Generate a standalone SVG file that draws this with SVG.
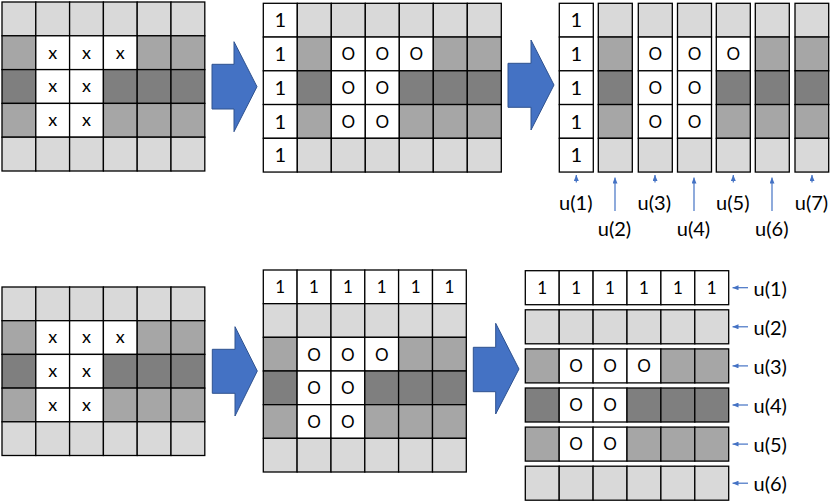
<svg xmlns="http://www.w3.org/2000/svg" width="830" height="503" viewBox="0 0 830 503">
<defs>
<style>
.g rect{stroke:#000;stroke-width:1.3}
.l{fill:#d9d9d9}.m{fill:#a6a6a6}.d{fill:#7f7f7f}.w{fill:#fff}
text{font-family:Lato,"Open Sans","Liberation Sans",sans-serif;fill:#000;text-anchor:middle}
.one{font-size:20px}.one2{font-size:17px}.o{font-size:17px}.x{font-size:18px}
.lab{font-size:20px}.labr{font-size:20px;text-anchor:start}
.big{fill:#4472c4;stroke:#2f528f;stroke-width:1}
.sa{stroke:#4472c4;stroke-width:1.2;fill:none;marker-end:url(#ah)}
</style>
<marker id="ah" markerUnits="userSpaceOnUse" markerWidth="6" markerHeight="5" refX="6" refY="2.5" orient="auto">
<path d="M0,0 L6,2.5 L0,5 z" fill="#4472c4"/>
</marker>
</defs>

<g id="grid-top-left" class="g">
<rect class="l" x="2" y="2" width="33.8" height="33.8"/><rect class="l" x="35.8" y="2" width="33.8" height="33.8"/><rect class="l" x="69.6" y="2" width="33.8" height="33.8"/><rect class="l" x="103.4" y="2" width="33.8" height="33.8"/><rect class="l" x="137.2" y="2" width="33.8" height="33.8"/><rect class="l" x="171" y="2" width="33.8" height="33.8"/>
<rect class="m" x="2" y="35.8" width="33.8" height="33.8"/><rect class="w" x="35.8" y="35.8" width="33.8" height="33.8"/><rect class="w" x="69.6" y="35.8" width="33.8" height="33.8"/><rect class="w" x="103.4" y="35.8" width="33.8" height="33.8"/><rect class="m" x="137.2" y="35.8" width="33.8" height="33.8"/><rect class="m" x="171" y="35.8" width="33.8" height="33.8"/>
<rect class="d" x="2" y="69.6" width="33.8" height="33.8"/><rect class="w" x="35.8" y="69.6" width="33.8" height="33.8"/><rect class="w" x="69.6" y="69.6" width="33.8" height="33.8"/><rect class="d" x="103.4" y="69.6" width="33.8" height="33.8"/><rect class="d" x="137.2" y="69.6" width="33.8" height="33.8"/><rect class="d" x="171" y="69.6" width="33.8" height="33.8"/>
<rect class="m" x="2" y="103.4" width="33.8" height="33.8"/><rect class="w" x="35.8" y="103.4" width="33.8" height="33.8"/><rect class="w" x="69.6" y="103.4" width="33.8" height="33.8"/><rect class="m" x="103.4" y="103.4" width="33.8" height="33.8"/><rect class="m" x="137.2" y="103.4" width="33.8" height="33.8"/><rect class="m" x="171" y="103.4" width="33.8" height="33.8"/>
<rect class="l" x="2" y="137.2" width="33.8" height="33.8"/><rect class="l" x="35.8" y="137.2" width="33.8" height="33.8"/><rect class="l" x="69.6" y="137.2" width="33.8" height="33.8"/><rect class="l" x="103.4" y="137.2" width="33.8" height="33.8"/><rect class="l" x="137.2" y="137.2" width="33.8" height="33.8"/><rect class="l" x="171" y="137.2" width="33.8" height="33.8"/>
<text class="x" x="52.7" y="58.5">x</text><text class="x" x="86.5" y="58.5">x</text><text class="x" x="120.3" y="58.5">x</text>
<text class="x" x="52.7" y="92.3">x</text><text class="x" x="86.5" y="92.3">x</text>
<text class="x" x="52.7" y="126.1">x</text><text class="x" x="86.5" y="126.1">x</text>
</g>

<g id="grid-top-middle" class="g">
<rect class="w" x="263.3" y="3.3" width="34" height="33.75"/><rect class="l" x="297.3" y="3.3" width="34" height="33.75"/><rect class="l" x="331.3" y="3.3" width="34" height="33.75"/><rect class="l" x="365.3" y="3.3" width="34" height="33.75"/><rect class="l" x="399.3" y="3.3" width="34" height="33.75"/><rect class="l" x="433.3" y="3.3" width="34" height="33.75"/><rect class="l" x="467.3" y="3.3" width="34" height="33.75"/>
<rect class="w" x="263.3" y="37.05" width="34" height="33.75"/><rect class="m" x="297.3" y="37.05" width="34" height="33.75"/><rect class="w" x="331.3" y="37.05" width="34" height="33.75"/><rect class="w" x="365.3" y="37.05" width="34" height="33.75"/><rect class="w" x="399.3" y="37.05" width="34" height="33.75"/><rect class="m" x="433.3" y="37.05" width="34" height="33.75"/><rect class="m" x="467.3" y="37.05" width="34" height="33.75"/>
<rect class="w" x="263.3" y="70.8" width="34" height="33.75"/><rect class="d" x="297.3" y="70.8" width="34" height="33.75"/><rect class="w" x="331.3" y="70.8" width="34" height="33.75"/><rect class="w" x="365.3" y="70.8" width="34" height="33.75"/><rect class="d" x="399.3" y="70.8" width="34" height="33.75"/><rect class="d" x="433.3" y="70.8" width="34" height="33.75"/><rect class="d" x="467.3" y="70.8" width="34" height="33.75"/>
<rect class="w" x="263.3" y="104.55" width="34" height="33.75"/><rect class="m" x="297.3" y="104.55" width="34" height="33.75"/><rect class="w" x="331.3" y="104.55" width="34" height="33.75"/><rect class="w" x="365.3" y="104.55" width="34" height="33.75"/><rect class="m" x="399.3" y="104.55" width="34" height="33.75"/><rect class="m" x="433.3" y="104.55" width="34" height="33.75"/><rect class="m" x="467.3" y="104.55" width="34" height="33.75"/>
<rect class="w" x="263.3" y="138.3" width="34" height="33.75"/><rect class="l" x="297.3" y="138.3" width="34" height="33.75"/><rect class="l" x="331.3" y="138.3" width="34" height="33.75"/><rect class="l" x="365.3" y="138.3" width="34" height="33.75"/><rect class="l" x="399.3" y="138.3" width="34" height="33.75"/><rect class="l" x="433.3" y="138.3" width="34" height="33.75"/><rect class="l" x="467.3" y="138.3" width="34" height="33.75"/>
<text class="one" x="280.3" y="27.4">1</text><text class="one" x="280.3" y="61.1">1</text><text class="one" x="280.3" y="94.9">1</text><text class="one" x="280.3" y="128.6">1</text><text class="one" x="280.3" y="162.4">1</text>
<text class="o" x="348.3" y="60.2">O</text><text class="o" x="382.3" y="60.2">O</text><text class="o" x="416.3" y="60.2">O</text>
<text class="o" x="348.3" y="94">O</text><text class="o" x="382.3" y="94">O</text>
<text class="o" x="348.3" y="127.7">O</text><text class="o" x="382.3" y="127.7">O</text>
</g>

<g id="columns-top-right">
<g id="col-u1" class="g">
<rect class="w" x="559.3" y="3.3" width="34" height="33.75"/><rect class="w" x="559.3" y="37.05" width="34" height="33.75"/><rect class="w" x="559.3" y="70.8" width="34" height="33.75"/><rect class="w" x="559.3" y="104.55" width="34" height="33.75"/><rect class="w" x="559.3" y="138.3" width="34" height="33.75"/>
<text class="one" x="576.3" y="27.4">1</text><text class="one" x="576.3" y="61.1">1</text><text class="one" x="576.3" y="94.9">1</text><text class="one" x="576.3" y="128.6">1</text><text class="one" x="576.3" y="162.4">1</text>
</g>
<g id="col-u2" class="g">
<rect class="l" x="598.3" y="3.3" width="34" height="33.75"/><rect class="m" x="598.3" y="37.05" width="34" height="33.75"/><rect class="d" x="598.3" y="70.8" width="34" height="33.75"/><rect class="m" x="598.3" y="104.55" width="34" height="33.75"/><rect class="l" x="598.3" y="138.3" width="34" height="33.75"/>
</g>
<g id="col-u3" class="g">
<rect class="l" x="638.3" y="3.3" width="34" height="33.75"/><rect class="w" x="638.3" y="37.05" width="34" height="33.75"/><rect class="w" x="638.3" y="70.8" width="34" height="33.75"/><rect class="w" x="638.3" y="104.55" width="34" height="33.75"/><rect class="l" x="638.3" y="138.3" width="34" height="33.75"/>
<text class="o" x="655.3" y="60.2">O</text><text class="o" x="655.3" y="94">O</text><text class="o" x="655.3" y="127.7">O</text>
</g>
<g id="col-u4" class="g">
<rect class="l" x="677.5" y="3.3" width="34" height="33.75"/><rect class="w" x="677.5" y="37.05" width="34" height="33.75"/><rect class="w" x="677.5" y="70.8" width="34" height="33.75"/><rect class="w" x="677.5" y="104.55" width="34" height="33.75"/><rect class="l" x="677.5" y="138.3" width="34" height="33.75"/>
<text class="o" x="694.5" y="60.2">O</text><text class="o" x="694.5" y="94">O</text><text class="o" x="694.5" y="127.7">O</text>
</g>
<g id="col-u5" class="g">
<rect class="l" x="716.3" y="3.3" width="34" height="33.75"/><rect class="w" x="716.3" y="37.05" width="34" height="33.75"/><rect class="d" x="716.3" y="70.8" width="34" height="33.75"/><rect class="m" x="716.3" y="104.55" width="34" height="33.75"/><rect class="l" x="716.3" y="138.3" width="34" height="33.75"/>
<text class="o" x="733.3" y="60.2">O</text>
</g>
<g id="col-u6" class="g">
<rect class="l" x="755.3" y="3.3" width="34" height="33.75"/><rect class="m" x="755.3" y="37.05" width="34" height="33.75"/><rect class="d" x="755.3" y="70.8" width="34" height="33.75"/><rect class="m" x="755.3" y="104.55" width="34" height="33.75"/><rect class="l" x="755.3" y="138.3" width="34" height="33.75"/>
</g>
<g id="col-u7" class="g">
<rect class="l" x="795" y="3.3" width="33.7" height="33.75"/><rect class="m" x="795" y="37.05" width="33.7" height="33.75"/><rect class="d" x="795" y="70.8" width="33.7" height="33.75"/><rect class="m" x="795" y="104.55" width="33.7" height="33.75"/><rect class="l" x="795" y="138.3" width="33.7" height="33.75"/>
</g>
<g id="labels-top">
<text class="lab" x="575.8" y="210">u(1)</text><text class="lab" x="614.5" y="236">u(2)</text><text class="lab" x="654.3" y="210">u(3)</text><text class="lab" x="693.5" y="236">u(4)</text><text class="lab" x="732.8" y="210">u(5)</text><text class="lab" x="771.8" y="236">u(6)</text><text class="lab" x="811.5" y="210">u(7)</text>
</g>
</g>

<g id="grid-bottom-left" class="g">
<rect class="l" x="2" y="287" width="33.8" height="33.7"/><rect class="l" x="35.8" y="287" width="33.8" height="33.7"/><rect class="l" x="69.6" y="287" width="33.8" height="33.7"/><rect class="l" x="103.4" y="287" width="33.8" height="33.7"/><rect class="l" x="137.2" y="287" width="33.8" height="33.7"/><rect class="l" x="171" y="287" width="33.8" height="33.7"/>
<rect class="m" x="2" y="320.7" width="33.8" height="33.7"/><rect class="w" x="35.8" y="320.7" width="33.8" height="33.7"/><rect class="w" x="69.6" y="320.7" width="33.8" height="33.7"/><rect class="w" x="103.4" y="320.7" width="33.8" height="33.7"/><rect class="m" x="137.2" y="320.7" width="33.8" height="33.7"/><rect class="m" x="171" y="320.7" width="33.8" height="33.7"/>
<rect class="d" x="2" y="354.4" width="33.8" height="33.7"/><rect class="w" x="35.8" y="354.4" width="33.8" height="33.7"/><rect class="w" x="69.6" y="354.4" width="33.8" height="33.7"/><rect class="d" x="103.4" y="354.4" width="33.8" height="33.7"/><rect class="d" x="137.2" y="354.4" width="33.8" height="33.7"/><rect class="d" x="171" y="354.4" width="33.8" height="33.7"/>
<rect class="m" x="2" y="388.1" width="33.8" height="33.7"/><rect class="w" x="35.8" y="388.1" width="33.8" height="33.7"/><rect class="w" x="69.6" y="388.1" width="33.8" height="33.7"/><rect class="m" x="103.4" y="388.1" width="33.8" height="33.7"/><rect class="m" x="137.2" y="388.1" width="33.8" height="33.7"/><rect class="m" x="171" y="388.1" width="33.8" height="33.7"/>
<rect class="l" x="2" y="421.8" width="33.8" height="33.7"/><rect class="l" x="35.8" y="421.8" width="33.8" height="33.7"/><rect class="l" x="69.6" y="421.8" width="33.8" height="33.7"/><rect class="l" x="103.4" y="421.8" width="33.8" height="33.7"/><rect class="l" x="137.2" y="421.8" width="33.8" height="33.7"/><rect class="l" x="171" y="421.8" width="33.8" height="33.7"/>
<text class="x" x="52.7" y="343.3">x</text><text class="x" x="86.5" y="343.3">x</text><text class="x" x="120.3" y="343.3">x</text>
<text class="x" x="52.7" y="377.1">x</text><text class="x" x="86.5" y="377.1">x</text>
<text class="x" x="52.7" y="410.8">x</text><text class="x" x="86.5" y="410.8">x</text>
</g>

<g id="grid-bottom-middle" class="g">
<rect class="w" x="263.3" y="270" width="33.8" height="33.67"/><rect class="w" x="297.1" y="270" width="33.9" height="33.67"/><rect class="w" x="331" y="270" width="33.8" height="33.67"/><rect class="w" x="364.8" y="270" width="33.8" height="33.67"/><rect class="w" x="398.6" y="270" width="33.9" height="33.67"/><rect class="w" x="432.5" y="270" width="33.8" height="33.67"/>
<rect class="l" x="263.3" y="303.67" width="33.8" height="33.67"/><rect class="l" x="297.1" y="303.67" width="33.9" height="33.67"/><rect class="l" x="331" y="303.67" width="33.8" height="33.67"/><rect class="l" x="364.8" y="303.67" width="33.8" height="33.67"/><rect class="l" x="398.6" y="303.67" width="33.9" height="33.67"/><rect class="l" x="432.5" y="303.67" width="33.8" height="33.67"/>
<rect class="m" x="263.3" y="337.33" width="33.8" height="33.67"/><rect class="w" x="297.1" y="337.33" width="33.9" height="33.67"/><rect class="w" x="331" y="337.33" width="33.8" height="33.67"/><rect class="w" x="364.8" y="337.33" width="33.8" height="33.67"/><rect class="m" x="398.6" y="337.33" width="33.9" height="33.67"/><rect class="m" x="432.5" y="337.33" width="33.8" height="33.67"/>
<rect class="d" x="263.3" y="371" width="33.8" height="33.67"/><rect class="w" x="297.1" y="371" width="33.9" height="33.67"/><rect class="w" x="331" y="371" width="33.8" height="33.67"/><rect class="d" x="364.8" y="371" width="33.8" height="33.67"/><rect class="d" x="398.6" y="371" width="33.9" height="33.67"/><rect class="d" x="432.5" y="371" width="33.8" height="33.67"/>
<rect class="m" x="263.3" y="404.67" width="33.8" height="33.67"/><rect class="w" x="297.1" y="404.67" width="33.9" height="33.67"/><rect class="w" x="331" y="404.67" width="33.8" height="33.67"/><rect class="m" x="364.8" y="404.67" width="33.8" height="33.67"/><rect class="m" x="398.6" y="404.67" width="33.9" height="33.67"/><rect class="m" x="432.5" y="404.67" width="33.8" height="33.67"/>
<rect class="l" x="263.3" y="438.33" width="33.8" height="33.67"/><rect class="l" x="297.1" y="438.33" width="33.9" height="33.67"/><rect class="l" x="331" y="438.33" width="33.8" height="33.67"/><rect class="l" x="364.8" y="438.33" width="33.8" height="33.67"/><rect class="l" x="398.6" y="438.33" width="33.9" height="33.67"/><rect class="l" x="432.5" y="438.33" width="33.8" height="33.67"/>
<text class="one2" x="280.2" y="292.9">1</text><text class="one2" x="314.05" y="292.9">1</text><text class="one2" x="347.9" y="292.9">1</text><text class="one2" x="381.7" y="292.9">1</text><text class="one2" x="415.6" y="292.9">1</text><text class="one2" x="449.4" y="292.9">1</text>
<text class="o" x="314.05" y="360.5">O</text><text class="o" x="347.9" y="360.5">O</text><text class="o" x="381.7" y="360.5">O</text>
<text class="o" x="314.05" y="394.1">O</text><text class="o" x="347.9" y="394.1">O</text>
<text class="o" x="314.05" y="427.8">O</text><text class="o" x="347.9" y="427.8">O</text>
</g>

<g id="rows-bottom-right">
<g id="row-u1" class="g">
<rect class="w" x="525.3" y="270.7" width="33.9" height="34"/><rect class="w" x="559.2" y="270.7" width="33.9" height="34"/><rect class="w" x="593.1" y="270.7" width="33.9" height="34"/><rect class="w" x="627" y="270.7" width="33.9" height="34"/><rect class="w" x="660.9" y="270.7" width="33.9" height="34"/><rect class="w" x="694.8" y="270.7" width="33.9" height="34"/>
<text class="one2" x="542.25" y="293.8">1</text><text class="one2" x="576.15" y="293.8">1</text><text class="one2" x="610.05" y="293.8">1</text><text class="one2" x="643.95" y="293.8">1</text><text class="one2" x="677.85" y="293.8">1</text><text class="one2" x="711.75" y="293.8">1</text>
</g>
<g id="row-u2" class="g">
<rect class="l" x="525.3" y="309.8" width="33.9" height="34"/><rect class="l" x="559.2" y="309.8" width="33.9" height="34"/><rect class="l" x="593.1" y="309.8" width="33.9" height="34"/><rect class="l" x="627" y="309.8" width="33.9" height="34"/><rect class="l" x="660.9" y="309.8" width="33.9" height="34"/><rect class="l" x="694.8" y="309.8" width="33.9" height="34"/>
</g>
<g id="row-u3" class="g">
<rect class="m" x="525.3" y="348.9" width="33.9" height="34"/><rect class="w" x="559.2" y="348.9" width="33.9" height="34"/><rect class="w" x="593.1" y="348.9" width="33.9" height="34"/><rect class="w" x="627" y="348.9" width="33.9" height="34"/><rect class="m" x="660.9" y="348.9" width="33.9" height="34"/><rect class="m" x="694.8" y="348.9" width="33.9" height="34"/>
<text class="o" x="576.15" y="372.2">O</text><text class="o" x="610.05" y="372.2">O</text><text class="o" x="643.95" y="372.2">O</text>
</g>
<g id="row-u4" class="g">
<rect class="d" x="525.3" y="388" width="33.9" height="34"/><rect class="w" x="559.2" y="388" width="33.9" height="34"/><rect class="w" x="593.1" y="388" width="33.9" height="34"/><rect class="d" x="627" y="388" width="33.9" height="34"/><rect class="d" x="660.9" y="388" width="33.9" height="34"/><rect class="d" x="694.8" y="388" width="33.9" height="34"/>
<text class="o" x="576.15" y="411.3">O</text><text class="o" x="610.05" y="411.3">O</text>
</g>
<g id="row-u5" class="g">
<rect class="m" x="525.3" y="427.1" width="33.9" height="34"/><rect class="w" x="559.2" y="427.1" width="33.9" height="34"/><rect class="w" x="593.1" y="427.1" width="33.9" height="34"/><rect class="m" x="627" y="427.1" width="33.9" height="34"/><rect class="m" x="660.9" y="427.1" width="33.9" height="34"/><rect class="m" x="694.8" y="427.1" width="33.9" height="34"/>
<text class="o" x="576.15" y="450.4">O</text><text class="o" x="610.05" y="450.4">O</text>
</g>
<g id="row-u6" class="g">
<rect class="l" x="525.3" y="466.2" width="33.9" height="34"/><rect class="l" x="559.2" y="466.2" width="33.9" height="34"/><rect class="l" x="593.1" y="466.2" width="33.9" height="34"/><rect class="l" x="627" y="466.2" width="33.9" height="34"/><rect class="l" x="660.9" y="466.2" width="33.9" height="34"/><rect class="l" x="694.8" y="466.2" width="33.9" height="34"/>
</g>
<g id="labels-right">
<text class="labr" x="753.5" y="295.5">u(1)</text><text class="labr" x="753.5" y="334.6">u(2)</text><text class="labr" x="753.5" y="373.7">u(3)</text><text class="labr" x="753.5" y="412.8">u(4)</text><text class="labr" x="753.5" y="451.9">u(5)</text><text class="labr" x="753.5" y="491">u(6)</text>
</g>
</g>

<g id="connectors">
<polygon class="big" points="212,64.3 234,64.3 234,41.7 257,86.7 234,131.7 234,109 212,109"/>
<polygon class="big" points="508,63.3 531,63.3 531,40 554,85 531,130 531,107.3 508,107.3"/>
<polygon class="big" points="212.3,349.3 235,349.3 235,326.7 257.3,371 235,416 235,393.3 212.3,393.3"/>
<polygon class="big" points="473.3,347.3 495.7,347.3 495.7,323.3 519,369 495.7,414 495.7,391.7 473.3,391.7"/>
<line class="sa" x1="576.3" y1="182.5" x2="576.3" y2="175"/>
<line class="sa" x1="615" y1="211" x2="615" y2="177.5"/>
<line class="sa" x1="655" y1="182.5" x2="655" y2="175"/>
<line class="sa" x1="694" y1="211" x2="694" y2="177.5"/>
<line class="sa" x1="733.3" y1="182.5" x2="733.3" y2="175"/>
<line class="sa" x1="772" y1="211" x2="772" y2="177.5"/>
<line class="sa" x1="812" y1="182.5" x2="812" y2="175"/>
<line class="sa" x1="748" y1="287.7" x2="732.5" y2="287.7"/>
<line class="sa" x1="748" y1="326.8" x2="732.5" y2="326.8"/>
<line class="sa" x1="748" y1="365.9" x2="732.5" y2="365.9"/>
<line class="sa" x1="748" y1="405" x2="732.5" y2="405"/>
<line class="sa" x1="748" y1="444.1" x2="732.5" y2="444.1"/>
<line class="sa" x1="748" y1="483.2" x2="732.5" y2="483.2"/>
</g>
</svg>
